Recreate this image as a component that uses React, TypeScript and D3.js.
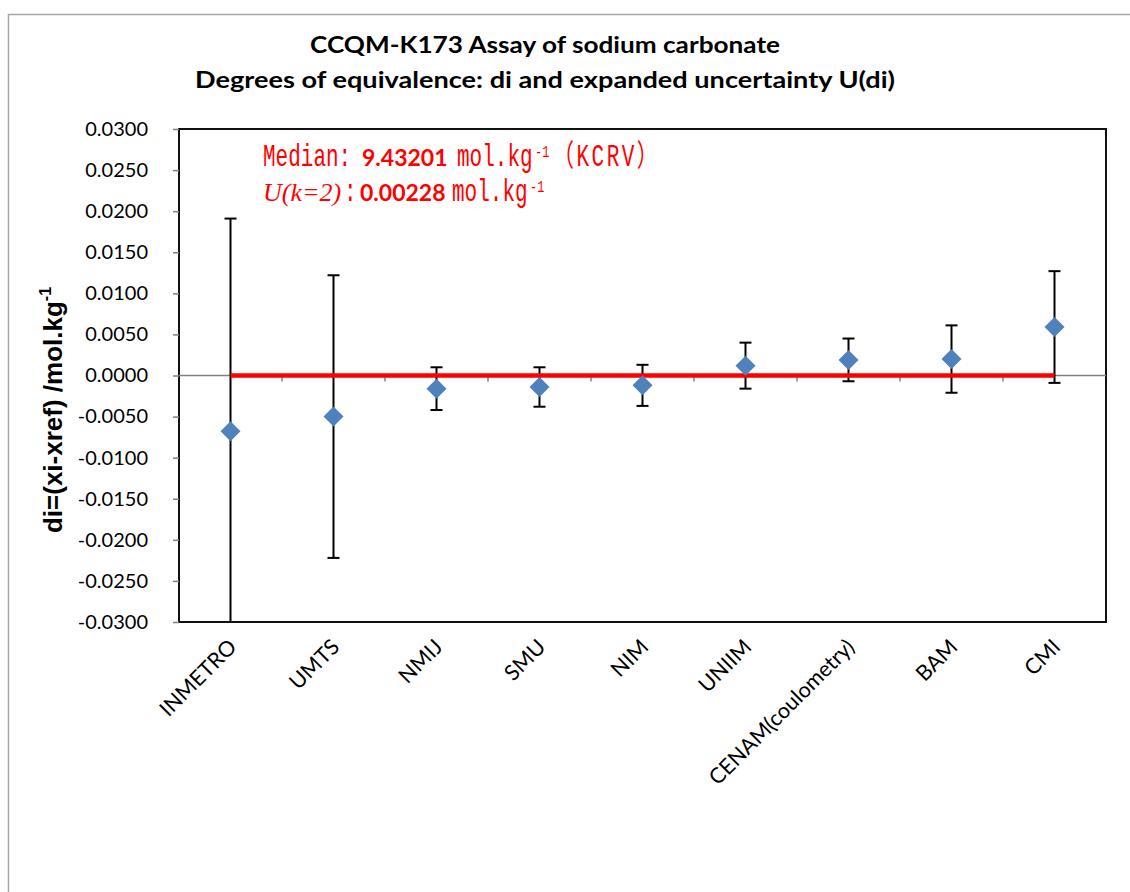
import React, { useRef, useEffect } from 'react';
import * as d3 from 'd3';

// participants, in chart order
const labs = ['INMETRO', 'UMTS', 'NMIJ', 'SMU', 'NIM', 'UNIIM', 'CENAM(coulometry)', 'BAM', 'CMI'];
// degrees of equivalence di (mol/kg)
const di = [-0.0068, -0.0050, -0.0016, -0.0014, -0.0012, 0.0012, 0.0019, 0.0020, 0.0059];
// expanded uncertainty U(di)
const Udi = [0.0259, 0.0172, 0.0026, 0.0024, 0.0025, 0.0028, 0.0026, 0.0041, 0.0068];
// KCRV reference line
const kcrv = [0, 0, 0, 0, 0, 0, 0, 0, 0];

const titleLines = ['CCQM-K173 Assay of sodium carbonate', 'Degrees of equivalence: di and expanded uncertainty U(di)'];

const W = 1130;
const H = 892;
const pl = 179, pt = 129, pr = 1106, pb = 622;

const mono = '"Liberation Mono", "Noto Sans CJK SC", monospace';
const lato = 'Lato, "Open Sans", sans-serif';
const serif = '"Liberation Serif", serif';

const App = () => {
    const ref = useRef<SVGSVGElement>(null);

    useEffect(() => {
        const svg = d3.select(ref.current);
        svg.selectAll('*').remove();

        // outer chart border (runs off the page right/bottom)
        svg.append('rect')
            .attr('x', 8.5).attr('y', 14.5)
            .attr('width', 1300).attr('height', 1000)
            .attr('fill', '#fff')
            .attr('stroke', '#a6a6a6').attr('stroke-width', 1.5);

        // title
        const tl = [{ t: titleLines[0], y: 53, len: 470 }, { t: titleLines[1], y: 88, len: 700 }];
        svg.selectAll('.title').data(tl).enter().append('text')
            .attr('class', 'title')
            .attr('x', 545).attr('y', d => d.y)
            .attr('text-anchor', 'middle')
            .attr('font-family', lato).attr('font-weight', 'bold').attr('font-size', 23)
            .attr('textLength', d => d.len).attr('lengthAdjust', 'spacingAndGlyphs')
            .text(d => d.t);

        const x = d3.scaleBand().domain(labs).range([pl, pr]);
        const cx = (d: string) => (x(d) as number) + x.bandwidth() / 2;
        const y = d3.scaleLinear().domain([-0.03, 0.03]).range([pb, pt]);

        // plot area
        svg.append('rect')
            .attr('x', pl).attr('y', pt)
            .attr('width', pr - pl).attr('height', pb - pt)
            .attr('fill', '#fff').attr('stroke', '#111').attr('stroke-width', 2);

        // y axis
        const ya = svg.append('g')
            .attr('transform', 'translate(' + pl + ',0)')
            .call(d3.axisLeft(y).ticks(12).tickSize(6).tickPadding(25)
                .tickFormat(d => (+d).toFixed(4)));
        ya.select('.domain').remove();
        ya.selectAll('line').attr('stroke', '#808080').attr('stroke-width', 1.5);
        ya.selectAll('text')
            .attr('font-family', lato).attr('font-size', 20).attr('fill', '#000');

        // x axis through zero
        const y0 = y(0);
        svg.append('line')
            .attr('x1', pl).attr('x2', pr).attr('y1', y0).attr('y2', y0)
            .attr('stroke', '#808080').attr('stroke-width', 1.5);
        svg.selectAll('.xtick').data(labs.slice(1)).enter().append('line')
            .attr('class', 'xtick')
            .attr('x1', d => x(d) as number).attr('x2', d => x(d) as number)
            .attr('y1', y0).attr('y2', y0 + 6)
            .attr('stroke', '#808080').attr('stroke-width', 1.5);

        svg.selectAll('.xlab').data(labs).enter().append('text')
            .attr('class', 'xlab')
            .attr('transform', d => 'translate(' + (cx(d) + 2) + ',643) rotate(-45)')
            .attr('text-anchor', 'end')
            .attr('dy', '0.35em')
            .attr('font-family', lato).attr('font-size', 21.5).attr('fill', '#000')
            .text(d => d);

        // y axis title
        const yt = svg.append('text')
            .attr('transform', 'translate(62,410) rotate(-90)')
            .attr('text-anchor', 'middle')
            .attr('font-family', '"Liberation Sans", Arial, sans-serif')
            .attr('font-weight', 'bold').attr('font-size', 26).attr('fill', '#000');
        yt.append('tspan').text('di=(xi-xref) /mol.kg');
        yt.append('tspan').attr('font-size', 16).attr('dy', -11).text('-1');

        // clip for marks
        svg.append('clipPath').attr('id', 'pclip')
            .append('rect').attr('x', pl).attr('y', pt).attr('width', pr - pl).attr('height', pb - pt);
        const g = svg.append('g').attr('clip-path', 'url(#pclip)');

        const rows = labs.map((l, i) => ({ l, v: di[i], u: Udi[i] }));

        // error bars
        const eb = g.selectAll('.eb').data(rows).enter().append('g').attr('class', 'eb')
            .attr('stroke', '#000').attr('stroke-width', 2);
        eb.append('line')
            .attr('x1', d => cx(d.l)).attr('x2', d => cx(d.l))
            .attr('y1', d => y(d.v - d.u)).attr('y2', d => y(d.v + d.u));
        eb.append('line')
            .attr('x1', d => cx(d.l) - 6).attr('x2', d => cx(d.l) + 6)
            .attr('y1', d => y(d.v + d.u)).attr('y2', d => y(d.v + d.u));
        eb.append('line')
            .attr('x1', d => cx(d.l) - 6).attr('x2', d => cx(d.l) + 6)
            .attr('y1', d => y(d.v - d.u)).attr('y2', d => y(d.v - d.u));

        // KCRV line
        const line = d3.line<number>().x((v, i) => cx(labs[i])).y(v => y(v));
        g.append('path').datum(kcrv)
            .attr('d', line)
            .attr('fill', 'none').attr('stroke', '#ff0000').attr('stroke-width', 4.5);

        // diamonds
        const sym = d3.symbol().type(d3.symbolSquare).size(200);
        g.selectAll('.pt').data(rows).enter().append('path')
            .attr('class', 'pt')
            .attr('d', sym as any)
            .attr('transform', d => 'translate(' + cx(d.l) + ',' + y(d.v) + ') rotate(45)')
            .attr('fill', '#4f81bd');

        // annotation (red text box); mono text is stretched upward like the narrow CJK-font latin
        const segs = [
            { t: 'Median:', x: 263, y: 166, f: mono, s: 21, sy: 1.45, w: 'normal', st: 'normal', ls: 0 },
            { t: '9.43201', x: 362, y: 166, f: lato, s: 23, sy: 1, w: 'bold', st: 'normal', ls: 0 },
            { t: 'mol.kg', x: 457, y: 166, f: mono, s: 21, sy: 1.45, w: 'normal', st: 'normal', ls: 0 },
            { t: '-1', x: 535, y: 157, f: mono, s: 12, sy: 1.45, w: 'normal', st: 'normal', ls: 0 },
            { t: '（KCRV）', x: 553, y: 166, f: mono, s: 21, sy: 1.45, w: 'normal', st: 'normal', ls: 2.5 },
            { t: 'U(k=2)', x: 263, y: 201, f: serif, s: 26, sy: 1, w: 'normal', st: 'italic', ls: 0 },
            { t: ':', x: 344, y: 201, f: mono, s: 21, sy: 1.45, w: 'normal', st: 'normal', ls: 0 },
            { t: '0.00228', x: 360, y: 201, f: lato, s: 23, sy: 1, w: 'bold', st: 'normal', ls: 0 },
            { t: 'mol.kg', x: 452, y: 201, f: mono, s: 21, sy: 1.45, w: 'normal', st: 'normal', ls: 0 },
            { t: '-1', x: 530, y: 192, f: mono, s: 12, sy: 1.45, w: 'normal', st: 'normal', ls: 0 },
        ];
        svg.selectAll('.ann').data(segs).enter().append('text')
            .attr('class', 'ann')
            .attr('transform', d => 'translate(' + d.x + ',' + d.y + ') scale(1,' + d.sy + ')')
            .attr('font-family', d => d.f).attr('font-size', d => d.s)
            .attr('font-weight', d => d.w).attr('font-style', d => d.st)
            .attr('letter-spacing', d => d.ls)
            .attr('fill', '#ff0000')
            .text(d => d.t);
    }, []);

    return (
        <svg ref={ref} width={W} height={H}
             style={{ position: 'absolute', left: 0, top: 0, background: '#fff', display: 'block' }}></svg>
    );
};

export default App;
